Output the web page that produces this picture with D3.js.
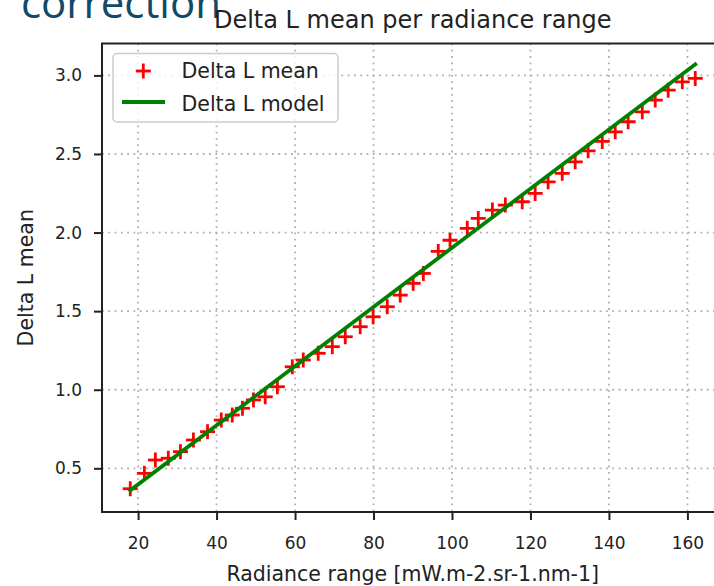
<!DOCTYPE html>
<html>
<head>
<meta charset="utf-8">
<script src="https://cdn.jsdelivr.net/npm/d3@7"></script>
<style>
  html, body { margin: 0; padding: 0; background: #ffffff; }
  svg { display: block; }
  text { font-family: "DejaVu Sans", sans-serif; fill: #222; }
</style>
</head>
<body>
<svg id="chart" width="714" height="586"></svg>
<script>
// Mean Delta L observed in each radiance bin
const radiance = [18.0, 21.6, 24.4, 27.7, 30.8, 34.1, 37.7, 41.2, 44.0, 46.6, 49.4, 52.4, 55.5,
  59.3, 62.1, 65.9, 69.5, 72.8, 76.6, 79.9, 83.5, 86.8, 90.1, 92.7, 96.5, 99.5, 103.9, 106.7,
  110.3, 113.6, 117.9, 121.2, 124.5, 128.1, 131.4, 134.7, 138.3, 141.6, 144.9, 148.5, 151.8,
  155.1, 158.7, 162.0];
const deltaMean = [0.37, 0.468, 0.553, 0.564, 0.606, 0.68, 0.733, 0.807, 0.839, 0.882, 0.935,
  0.955, 1.019, 1.146, 1.189, 1.232, 1.274, 1.337, 1.401, 1.464, 1.528, 1.602, 1.677, 1.740,
  1.88, 1.951, 2.027, 2.090, 2.143, 2.175, 2.196, 2.249, 2.323, 2.377, 2.450, 2.52, 2.58,
  2.641, 2.705, 2.768, 2.843, 2.906, 2.959, 2.981];

// Linear model end points
const modelRadiance = [18.0, 162.0];
const modelDelta = [0.36, 3.07];

const xTicks = [20, 40, 60, 80, 100, 120, 140, 160];
const yTicks = [0.5, 1.0, 1.5, 2.0, 2.5, 3.0];

const svg = d3.select("#chart");

const plot = { left: 102, right: 723.5, top: 43.5, bottom: 512 };

const x = d3.scaleLinear().domain([10.8, 169.2]).range([plot.left, plot.right]);
const y = d3.scaleLinear().domain([0.222, 3.203]).range([plot.bottom, plot.top]);

// Slide heading partly visible above the figure
svg.append("text")
  .attr("x", 221).attr("y", 18)
  .attr("text-anchor", "end")
  .style("font-family", "'Open Sans', sans-serif")
  .style("font-size", "42px")
  .style("fill", "#0f4a68")
  .text("correction");

// Title
svg.append("text")
  .attr("x", (plot.left + plot.right) / 2).attr("y", 28)
  .attr("text-anchor", "middle")
  .style("font-size", "24px")
  .text("Delta L mean per radiance range");

svg.append("defs").append("clipPath").attr("id", "plotClip")
  .append("rect")
  .attr("x", plot.left).attr("y", plot.top)
  .attr("width", plot.right - plot.left).attr("height", plot.bottom - plot.top);

// Grid
const grid = svg.append("g").attr("clip-path", "url(#plotClip)");
grid.selectAll("line.gx").data(xTicks).join("line")
  .attr("x1", d => x(d)).attr("x2", d => x(d))
  .attr("y1", plot.top).attr("y2", plot.bottom)
  .attr("stroke", "#b0b0b0").attr("stroke-width", 1.8)
  .attr("stroke-dasharray", "1.8,4.5");
grid.selectAll("line.gy").data(yTicks).join("line")
  .attr("y1", d => y(d)).attr("y2", d => y(d))
  .attr("x1", plot.left).attr("x2", plot.right)
  .attr("stroke", "#b0b0b0").attr("stroke-width", 1.8)
  .attr("stroke-dasharray", "1.8,4.5");

// Observed means as '+' markers
const pts = d3.range(radiance.length).map(i => ({ r: radiance[i], v: deltaMean[i] }));
const half = 7.5;
const mw = 2.8;
const marks = svg.append("g").attr("clip-path", "url(#plotClip)");
const plus = marks.selectAll("g.pt").data(pts).join("g")
  .attr("transform", d => `translate(${x(d.r)},${y(d.v)})`);
plus.append("line").attr("x1", -half).attr("x2", half).attr("y1", 0).attr("y2", 0)
  .attr("stroke", "#ff0000").attr("stroke-width", mw);
plus.append("line").attr("y1", -half).attr("y2", half).attr("x1", 0).attr("x2", 0)
  .attr("stroke", "#ff0000").attr("stroke-width", mw);

// Model line
const modelPts = modelRadiance.map((r, i) => ({ r, v: modelDelta[i] }));
marks.append("path")
  .datum(modelPts)
  .attr("d", d3.line().x(d => x(d.r)).y(d => y(d.v)))
  .attr("fill", "none")
  .attr("stroke", "#008000")
  .attr("stroke-width", 3.8)
  .attr("stroke-linecap", "square");

// Axes
const xAxis = svg.append("g")
  .attr("transform", `translate(0,${plot.bottom})`)
  .call(d3.axisBottom(x).tickValues(xTicks).tickFormat(d3.format("d")).tickSize(8).tickPadding(17));
const yAxis = svg.append("g")
  .attr("transform", `translate(${plot.left},0)`)
  .call(d3.axisLeft(y).tickValues(yTicks).tickFormat(d3.format(".1f")).tickSize(8).tickPadding(12));

[xAxis, yAxis].forEach(g => {
  g.select(".domain").remove();
  g.selectAll(".tick line").attr("stroke", "#222").attr("stroke-width", 2);
  g.selectAll(".tick text").style("font-size", "17px").style("font-family", "'DejaVu Sans', sans-serif").attr("fill", "#222");
});

// Frame
svg.append("rect")
  .attr("x", plot.left).attr("y", plot.top)
  .attr("width", plot.right - plot.left).attr("height", plot.bottom - plot.top)
  .attr("fill", "none").attr("stroke", "#222").attr("stroke-width", 2);

// Axis labels
svg.append("text")
  .attr("x", (plot.left + plot.right) / 2).attr("y", 581)
  .attr("text-anchor", "middle")
  .style("font-size", "20.5px")
  .text("Radiance range [mW.m-2.sr-1.nm-1]");
svg.append("text")
  .attr("transform", `translate(33,${(plot.top + plot.bottom) / 2}) rotate(-90)`)
  .attr("text-anchor", "middle")
  .style("font-size", "20.5px")
  .text("Delta L mean");

// Legend
const leg = svg.append("g");
leg.append("rect")
  .attr("x", 113).attr("y", 53.5).attr("width", 225).attr("height", 68.5)
  .attr("rx", 4).attr("ry", 4)
  .attr("fill", "#ffffff").attr("fill-opacity", 0.8)
  .attr("stroke", "#cccccc").attr("stroke-width", 1.5);
const lp = leg.append("g").attr("transform", "translate(143.3,71)");
lp.append("line").attr("x1", -half).attr("x2", half)
  .attr("stroke", "#ff0000").attr("stroke-width", mw);
lp.append("line").attr("y1", -half).attr("y2", half)
  .attr("stroke", "#ff0000").attr("stroke-width", mw);
leg.append("text").attr("x", 181.5).attr("y", 78)
  .style("font-size", "20.5px").text("Delta L mean");
leg.append("line")
  .attr("x1", 122).attr("x2", 165).attr("y1", 102).attr("y2", 102)
  .attr("stroke", "#008000").attr("stroke-width", 3.8);
leg.append("text").attr("x", 181.5).attr("y", 110.5)
  .style("font-size", "20.5px").text("Delta L model");
</script>
</body>
</html>
